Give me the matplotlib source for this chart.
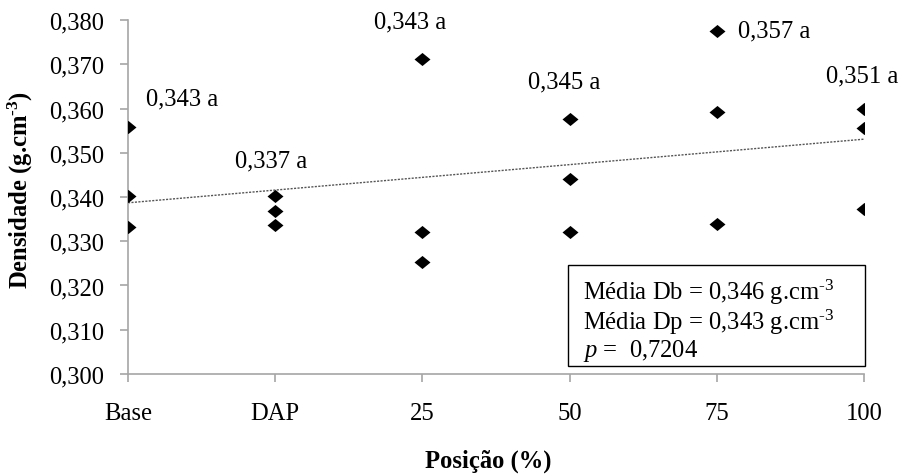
import numpy as np
import matplotlib
matplotlib.use("Agg")
import matplotlib.pyplot as plt
from matplotlib.patches import Rectangle

# ---- data ----
categories = ["Base", "DAP", "25", "50", "75", "100"]
rep1 = [0.3559, 0.3403, 0.3712, 0.3576, 0.3776, 0.3600]
rep2 = [0.3402, 0.3368, 0.3321, 0.3441, 0.3591, 0.3555]
rep3 = [0.3332, 0.3337, 0.3253, 0.3320, 0.3339, 0.3373]
mean_labels = ["0,343 a", "0,337 a", "0,343 a", "0,345 a", "0,357 a", "0,351 a"]
yticks = [0.300, 0.310, 0.320, 0.330, 0.340, 0.350, 0.360, 0.370, 0.380]
box_lines = [r"Média Db = 0,346 g.cm$^{\text{-3}}$", r"Média Dp = 0,343 g.cm$^{\text{-3}}$", r"$p$ =  0,7204"]

# label offsets (points) relative to each group's top point, and alignment
label_offsets = [(13, 20), (-3, 25), (-9, 27), (-4, 27), (15, 0), (-1, 24)]
label_ha = ["left", "center", "center", "center", "left", "center"]

plt.rcParams["font.family"] = ["Liberation Serif", "DejaVu Serif"]
plt.rcParams["mathtext.fontset"] = "custom"
plt.rcParams["mathtext.rm"] = "Liberation Serif"
plt.rcParams["mathtext.it"] = "Liberation Serif:italic"
plt.rcParams["mathtext.bf"] = "Liberation Serif:bold"

FS = 17.7
fig = plt.figure(figsize=(9.04, 4.77), dpi=100)
ax = fig.add_axes([128/904, 1-375/477, (864-128)/904, (375-21)/477])

x = np.arange(len(categories))
diamond = [(-1, 0), (0, 0.82), (1, 0), (0, -0.82), (-1, 0)]
for series in (rep1, rep2, rep3):
    ax.plot(x, series, linestyle="none", marker=diamond, markersize=11.5,
            color="black", markeredgewidth=0, zorder=3)

# linear trend through all points
allx = np.concatenate([x, x, x])
ally = np.concatenate([rep1, rep2, rep3])
coef = np.polyfit(allx, ally, 1)
ax.plot(x[[0, -1]], np.polyval(coef, x[[0, -1]]), linestyle=(0, (1.5, 1)),
        linewidth=1.0, color="#555555", zorder=2)

# mean labels
tops = np.max([rep1, rep2, rep3], axis=0)
for i, (lab, off, ha) in enumerate(zip(mean_labels, label_offsets, label_ha)):
    ax.annotate(lab, (x[i], tops[i]), xytext=off, textcoords="offset points",
                ha=ha, va="center", fontsize=FS)

ax.set_xlim(0, len(categories) - 1)
ax.set_ylim(0.300, 0.380)
ax.set_xticks(x)
ax.set_xticklabels(categories)
ax.set_yticks(yticks)
ax.set_yticklabels([f"{v:.3f}".replace(".", ",") for v in yticks])

for s in ("top", "right"):
    ax.spines[s].set_visible(False)
for s in ("left", "bottom"):
    ax.spines[s].set_color("#a6a6a6")
    ax.spines[s].set_linewidth(1.2)
ax.tick_params(axis="both", direction="out", length=6, width=1.2,
               color="#a6a6a6", labelsize=FS, labelcolor="black")
ax.tick_params(axis="y", pad=11)
ax.tick_params(axis="x", pad=14)

ax.set_ylabel("Densidade (g.cm$^{\\mathbf{\u20103}}$)", fontsize=FS, fontweight="bold")
ax.yaxis.set_label_coords(-0.127, 0.523)
ax.set_xlabel("Posição (%)", fontsize=FS, fontweight="bold")
ax.xaxis.set_label_coords(0.490, -0.212)

# stats box
ax.add_patch(Rectangle((0.598, 0.023), 0.403, 0.285, transform=ax.transAxes,
                       facecolor="white", edgecolor="black", linewidth=1.0,
                       zorder=4, clip_on=False))
for txt, yy in zip(box_lines, [0.234, 0.150, 0.068]):
    ax.text(0.618, yy, txt, transform=ax.transAxes, fontsize=FS,
            va="center", ha="left", zorder=5)

fig.savefig("out.png", dpi=100)
